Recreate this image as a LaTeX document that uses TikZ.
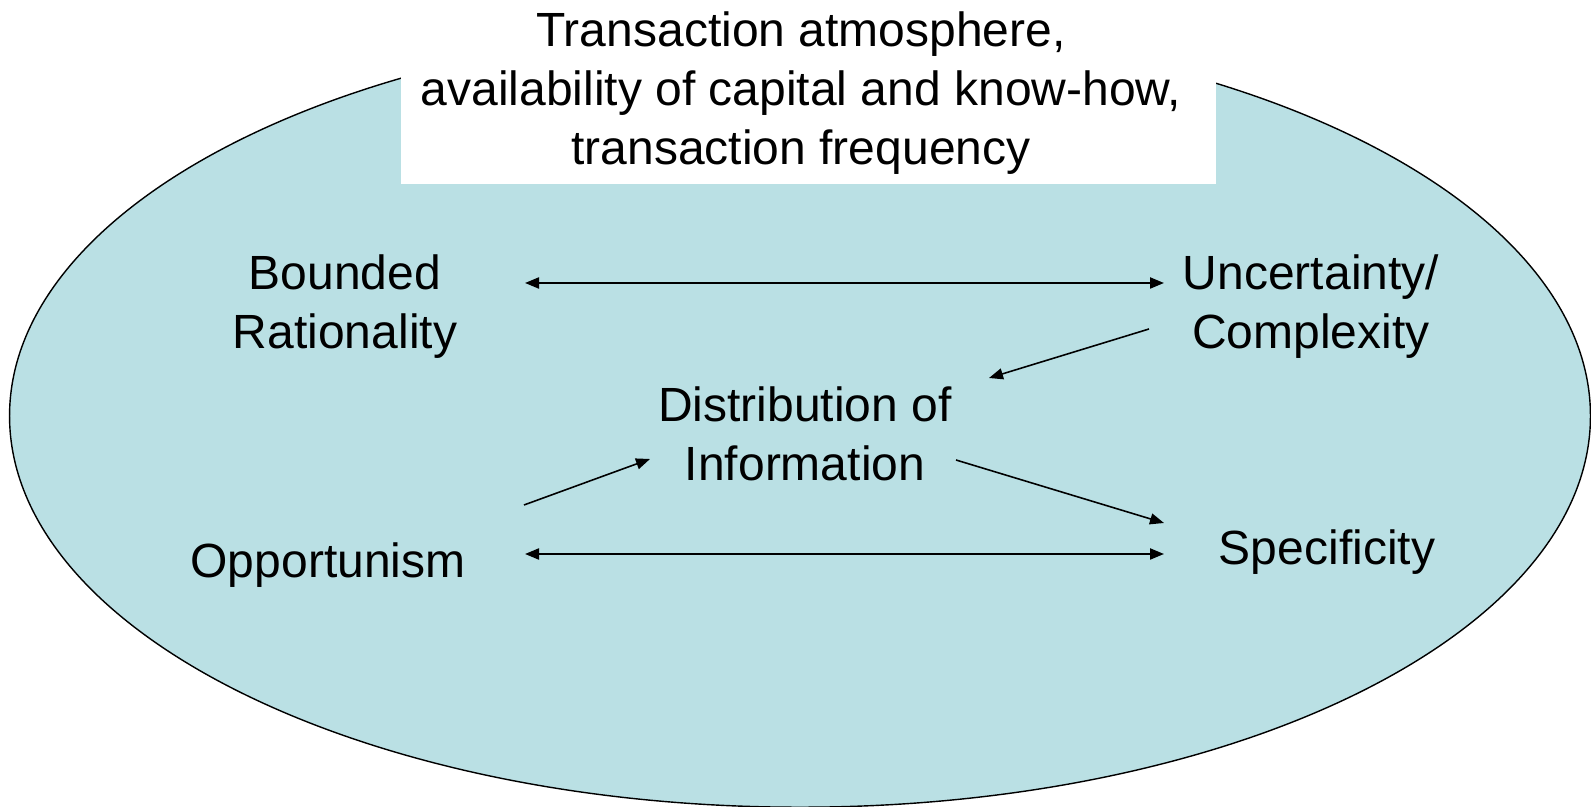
\documentclass[tikz,border=0pt]{standalone}
\usepackage{fontspec}
\setmainfont{Liberation Sans}
\definecolor{ovalteal}{RGB}{186,224,228}
\usetikzlibrary{arrows.meta}
\usetikzlibrary{calc}
\tikzset{
  lbl/.style={align=center, font=\fontsize{13.65}{16.8}\selectfont, inner sep=0pt},
  link/.style={line width=0.45pt, -{Triangle[length=1.4mm,width=1.1mm]}},
  bilink/.style={line width=0.6pt, {Triangle[length=1.4mm,width=1.1mm]}-{Triangle[length=1.4mm,width=1.1mm]}}
}

\begin{document}
\begin{tikzpicture}[x=0.01cm, y=-0.01cm]
  \useasboundingbox (0,0) rectangle (1591,807);

  % the oval
  \draw [fill=ovalteal, line width=0.4pt] (800,416) ellipse [x radius=7.90cm, y radius=3.91cm];

  % box on top
  \fill [white] (401,0) rectangle (1216,184);
  \node [lbl] (atmos) at (801,93) {Transaction atmosphere,\\availability of capital and know-how,\\transaction frequency};

  \node [lbl] (bounded) at (345,307) {Bounded\\Rationality};
  \node [lbl] (uncert) at (1311,307) {Uncertainty/\\Complexity};
  \node [lbl] (distinfo) at (805,434) {Distribution of\\Information};
  \node [lbl] (opport) at (328,565) {Opportunism};
  \node [lbl] (specif) at (1327,552) {Specificity};

  \draw [bilink] ([shift={(180,-24)}]bounded.center) -- ([shift={(-147,-24)}]uncert.center);
  \draw [bilink] ([shift={(197,-11)}]opport.center) -- ([shift={(-163,2)}]specif.center);
  \draw [link] ([shift={(-162,22)}]uncert.center) -- ([shift={(184,-56)}]distinfo.center);
  \draw [link] ([shift={(196,-60)}]opport.center) -- ([shift={(-155,25)}]distinfo.center);
  \draw [link] ([shift={(151,26)}]distinfo.center) -- ([shift={(-163,-29)}]specif.center);
\end{tikzpicture}
\end{document}
